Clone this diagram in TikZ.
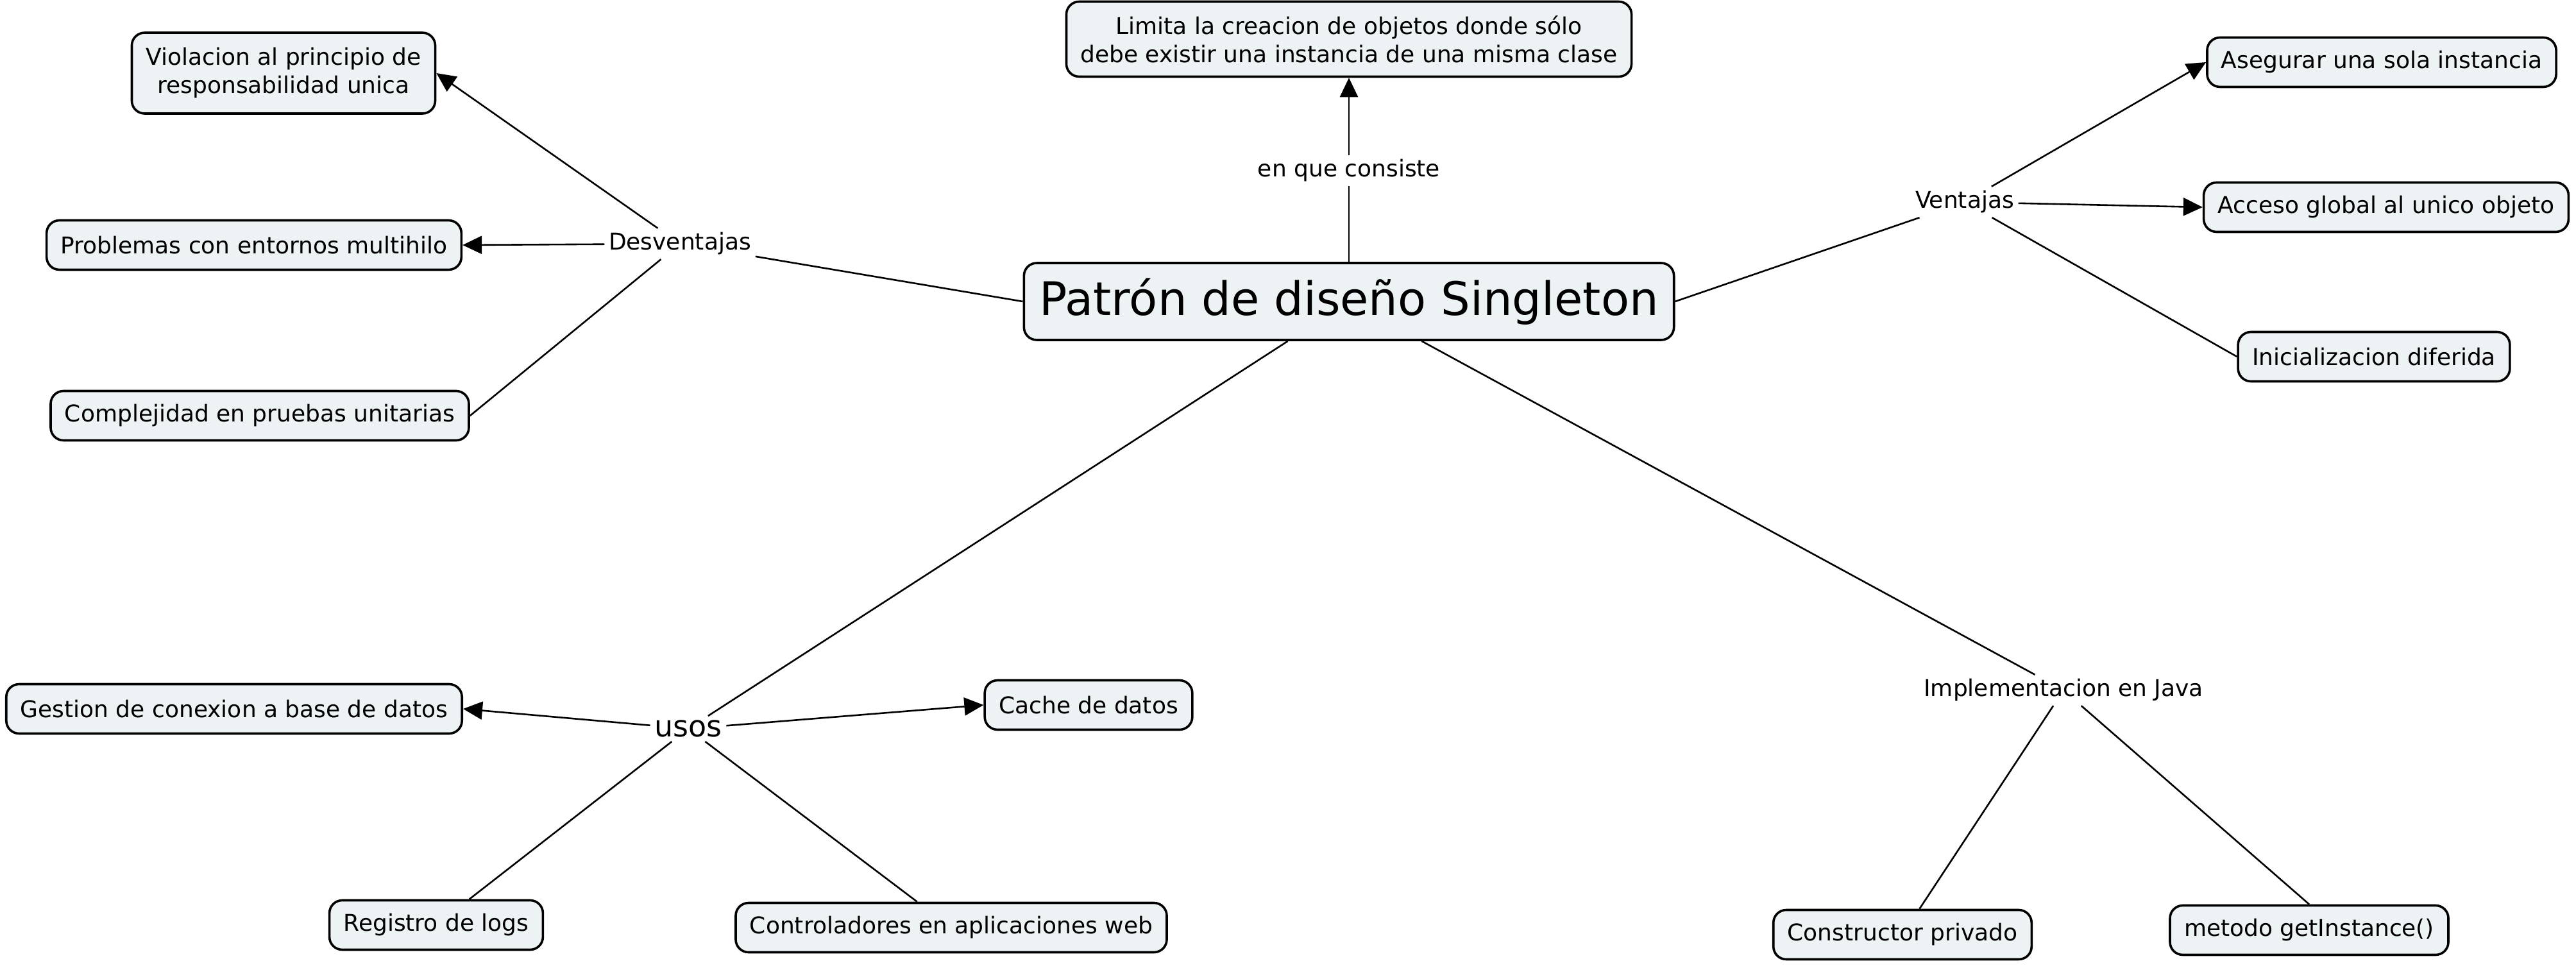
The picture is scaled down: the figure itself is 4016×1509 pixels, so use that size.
\documentclass[tikz,border=0pt]{standalone}
\usepackage{fontspec}
\setmainfont{DejaVu Sans}
\usetikzlibrary{arrows.meta}
\definecolor{boxfill}{RGB}{237,243,245}
\begin{document}
\begin{tikzpicture}[x=0.25pt,y=-0.25pt,
  concept/.style={draw=black, line width=0.9pt, rounded corners=5pt, fill=boxfill,
    font=\fontsize{9}{11}\selectfont, inner xsep=5.5pt, inner ysep=2pt,
    minimum height=19.25pt, align=center},
  linkphrase/.style={font=\fontsize{9}{11}\selectfont, inner sep=1.5pt},
  conn/.style={line width=0.65pt},
  arr/.style={conn, -{Triangle[length=7.5pt,width=7pt]}}]
\useasboundingbox (0,0) rectangle (4016,1509);

% central concept
\node[concept, font=\fontsize{18}{22}\selectfont, inner xsep=6pt, minimum height=30pt] (main) at (2103,470) {Patrón de diseño Singleton};

% top
\node[concept, minimum height=29.25pt] (top) at (2103,61) {Limita la creacion de objetos donde sólo\\ debe existir una instancia de una misma clase};
\node[linkphrase] (enq) at (2103,266) {en que consiste};

% Desventajas
\node[linkphrase] (desv) at (1060,380) {Desventajas};
\node[concept, minimum height=31.5pt] (viol) at (442,114) {Violacion al principio de\\responsabilidad unica};
\node[concept] (prob) at (396,382) {Problemas con entornos multihilo};
\node[concept] (compl) at (405,648) {Complejidad en pruebas unitarias};

% Ventajas
\node[linkphrase] (vent) at (3063,315) {Ventajas};
\node[concept] (aseg) at (3713,97) {Asegurar una sola instancia};
\node[concept] (acc) at (3720,323) {Acceso global al unico objeto};
\node[concept] (ini) at (3701,556) {Inicializacion diferida};

% usos
\node[linkphrase, font=\fontsize{11.5}{14}\selectfont] (usos) at (1073,1136) {usos};
\node[concept] (gest) at (365,1105) {Gestion de conexion a base de datos};
\node[concept] (cache) at (1697,1099) {Cache de datos};
\node[concept] (reg) at (680,1442) {Registro de logs};
\node[concept] (ctrl) at (1483,1446) {Controladores en aplicaciones web};

% Implementacion
\node[linkphrase] (impl) at (3217,1076) {Implementacion en Java};
\node[concept] (cons) at (2966,1457) {Constructor privado};
\node[concept] (met) at (3600,1450) {metodo getInstance()};

% connectors
\draw[conn] (main.north) -- (enq);
\draw[arr] (enq) -- (top.south);

\draw[conn] (main.west) -- (desv);
\draw[arr] (desv) -- (viol.east);
\draw[arr] (desv) -- (prob.east);
\draw[conn] (desv) -- (compl.east);

\draw[conn] (main.east) -- (vent);
\draw[arr] (vent) -- (aseg.west);
\draw[arr] (vent) -- (acc.west);
\draw[conn] (vent) -- (ini.west);

\draw[conn] (main) -- (usos);
\draw[arr] (usos) -- (gest.east);
\draw[arr] (usos) -- (cache.west);
\draw[conn] (usos) -- (reg);
\draw[conn] (usos) -- (ctrl);

\draw[conn] (main) -- (impl);
\draw[conn] (impl) -- (cons);
\draw[conn] (impl) -- (met.north);
\end{tikzpicture}
\end{document}
